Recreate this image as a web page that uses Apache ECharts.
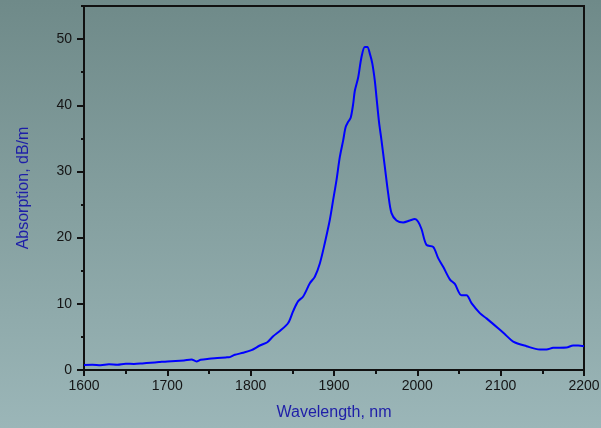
<!DOCTYPE html>
<html>
<head>
<meta charset="utf-8">
<script src="https://cdn.jsdelivr.net/npm/echarts@6/dist/echarts.min.js"></script>
<style>
  html, body { margin: 0; padding: 0; }
  #chart {
    width: 601px;
    height: 428px;
    background: linear-gradient(to bottom, #6f8a89 0%, #85a0a0 50%, #9bb6b8 100%);
  }
</style>
</head>
<body>
<div id="chart"></div>
<script>
// absorption spectrum
var wavelength = [
  1600, 1610, 1620, 1630, 1640, 1650, 1660, 1670, 1680, 1690,
  1700, 1710, 1720, 1729, 1735, 1740, 1750, 1760, 1770, 1775,
  1781, 1791, 1801, 1811, 1820, 1827, 1835, 1845, 1851, 1857,
  1863, 1871, 1877, 1883, 1889, 1895, 1899, 1903, 1907, 1911,
  1914, 1917, 1920, 1923, 1925, 1929, 1933, 1937, 1940, 1943,
  1946, 1949, 1951, 1954, 1957, 1961, 1965, 1969, 1975, 1983,
  1991, 1997, 2001, 2005, 2011, 2019, 2025, 2031, 2039, 2045,
  2053, 2059, 2065, 2075, 2083, 2097, 2106, 2115, 2131, 2147,
  2155, 2163, 2179, 2187, 2193, 2200
]
var absorption = [
  0.75, 0.78, 0.72, 0.85, 0.8, 0.95, 0.92, 1.0, 1.1, 1.2,
  1.3, 1.35, 1.45, 1.6, 1.3, 1.55, 1.7, 1.8, 1.9, 1.95,
  2.3, 2.6, 3.0, 3.7, 4.2, 5.1, 5.9, 7.1, 8.9, 10.4,
  11.1, 13.1, 14.1, 16.1, 19.2, 22.7, 25.7, 28.7, 32.2, 34.7,
  36.7, 37.5, 38.1, 40.2, 42.2, 44.2, 47.3, 48.8, 48.8, 47.8,
  46.3, 43.7, 41.2, 37.5, 34.7, 30.7, 26.7, 23.7, 22.6, 22.3,
  22.6, 22.8, 22.4, 21.3, 18.9, 18.6, 16.9, 15.6, 13.7, 13.0,
  11.3, 11.3, 10.1, 8.6, 7.8, 6.3, 5.3, 4.3, 3.6, 3.1,
  3.1, 3.35, 3.4, 3.7, 3.7, 3.6
]
var yTicks = [0, 10, 20, 30, 40, 50]

var chart = echarts.init(document.getElementById('chart'))

var seriesData = wavelength.map(function (w, i) {
  return [w, absorption[i]]
})

var labelStyle = {
  color: '#151515',
  fontSize: 14,
  fontFamily: 'Liberation Sans'
}

chart.setOption({
  backgroundColor: 'transparent',
  animation: false,
  grid: {
    left: 84,
    right: 17,
    top: 6,
    bottom: 58,
    outerBoundsMode: 'none',
    show: true,
    borderColor: '#111',
    borderWidth: 2,
    backgroundColor: 'transparent'
  },
  xAxis: {
    type: 'value',
    min: 1600,
    max: 2200,
    interval: 100,
    name: 'Wavelength, nm',
    nameLocation: 'middle',
    nameGap: 35,
    nameTextStyle: {
      color: '#1e1ea8',
      fontSize: 16,
      fontFamily: 'Liberation Sans'
    },
    axisLine: { show: false },
    axisTick: { show: true, length: 6, lineStyle: { color: '#111', width: 2 } },
    minorTick: { show: true, splitNumber: 2, length: 4, lineStyle: { color: '#111', width: 2 } },
    axisLabel: Object.assign({
      margin: 9,
      formatter: function (v) { return String(v) }
    }, labelStyle),
    splitLine: { show: false }
  },
  yAxis: [
    {
      type: 'value',
      min: 0,
      max: 55,
      interval: 10,
      name: 'Absorption, dB/m',
      nameLocation: 'middle',
      nameGap: 52,
      nameTextStyle: {
        color: '#1e1ea8',
        fontSize: 16,
        fontFamily: 'Liberation Sans'
      },
      axisLine: { show: false },
      axisTick: {
        show: true,
        length: 7,
        customValues: yTicks,
        lineStyle: { color: '#111', width: 2 }
      },
      axisLabel: Object.assign({ margin: 12, customValues: yTicks }, labelStyle),
      splitLine: { show: false }
    },
    {
      // minor ticks
      type: 'value',
      position: 'left',
      min: 0,
      max: 55,
      interval: 5,
      axisLine: { show: false },
      axisTick: { show: true, length: 3, lineStyle: { color: '#111', width: 2 } },
      axisLabel: { show: false },
      splitLine: { show: false }
    }
  ],
  series: [
    {
      type: 'line',
      data: seriesData,
      smooth: 0.3,
      showSymbol: false,
      lineStyle: { color: '#0000ff', width: 2 }
    }
  ]
})
</script>
</body>
</html>
